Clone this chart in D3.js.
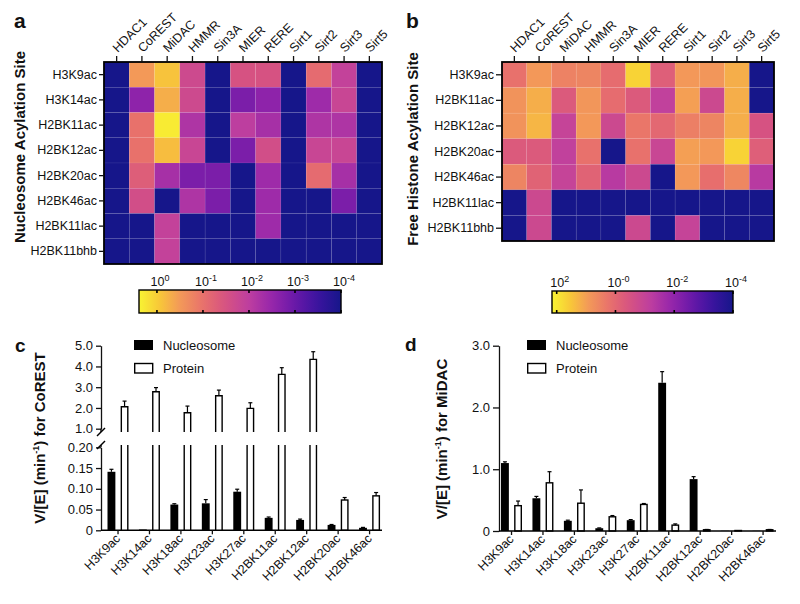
<!DOCTYPE html>
<html>
<head>
<meta charset="utf-8">
<script src="https://cdn.jsdelivr.net/npm/d3@7"></script>
<style>
  body { margin: 0; background: #fff; }
  text { font-family: "Liberation Sans", Arial, sans-serif; fill: #111; }
</style>
</head>
<body>
<script>
// ---- data ----
var enzymes = ["HDAC1", "CoREST", "MiDAC", "HMMR", "Sin3A", "MIER", "RERE", "Sirt1", "Sirt2", "Sirt3", "Sirt5"];
var nucleosomeSites = ["H3K9ac", "H3K14ac", "H2BK11ac", "H2BK12ac", "H2BK20ac", "H2BK46ac", "H2BK11lac", "H2BK11bhb"];
var freeSites = ["H3K9ac", "H2BK11ac", "H2BK12ac", "H2BK20ac", "H2BK46ac", "H2BK11lac", "H2BK11bhb"];

// log10 V/[E]
var nucleosomeLog = [
  [-4.5, -0.5, -0.1, -1.7, -4.5, -1.5, -1.5, -4.5, -1.1, -1.9, -4.5],
  [-4.5, -2.6, -0.3, -1.7, -4.5, -2.8, -2.6, -4.5, -2.4, -1.8, -4.5],
  [-4.5, -1.0, 0.3, -2.2, -4.5, -2.0, -2.3, -4.5, -2.2, -2.2, -4.5],
  [-4.5, -1.0, -0.15, -1.8, -4.5, -2.8, -1.6, -4.5, -1.8, -1.8, -4.5],
  [-4.5, -1.3, -2.3, -2.8, -2.8, -4.5, -2.4, -4.5, -1.1, -2.3, -4.5],
  [-4.5, -1.6, -4.5, -2.2, -2.8, -4.5, -2.4, -4.5, -4.5, -2.8, -4.5],
  [-4.5, -4.5, -1.9, -4.5, -4.5, -4.5, -2.4, -4.5, -4.5, -4.5, -4.5],
  [-4.5, -4.5, -1.9, -4.5, -4.5, -4.5, -4.5, -4.5, -4.5, -4.5, -4.5]
];
var freeLog = [
  [0.2, 0.9, 0.5, 0.55, 0.1, 1.7, -0.2, 0.9, 0.85, 1.2, -4.5],
  [0.8, 1.2, -0.3, 0.85, 0.1, -0.3, -1.1, 1.0, -0.8, 1.2, -4.5],
  [0.8, 1.3, -1.0, 0.9, -0.8, 0.3, 0.0, 0.45, 0.55, 1.2, -0.5],
  [-0.3, -0.3, -1.1, 0.2, -4.5, 0.2, -0.9, 1.0, 0.9, 1.7, -0.2],
  [0.55, -0.1, -1.0, -0.1, -1.3, -0.8, -4.5, 0.9, 0.15, 0.6, -1.3],
  [-4.5, -0.8, -4.5, -4.5, -4.5, -4.5, -4.5, -4.5, -4.5, -4.5, -4.5],
  [-4.5, -0.8, -4.5, -4.5, -4.5, -0.8, -4.5, -1.0, -4.5, -4.5, -4.5]
];
var nucleosomeTicks = [0, -1, -2, -3, -4];
var nucleosomeTickText = ["0", "-1", "-2", "-3", "-4"];
var freeTicks = [2, 0, -2, -4];
var freeTickText = ["2", "-0", "-2", "-4"];

var barSites = ["H3K9ac", "H3K14ac", "H3K18ac", "H3K23ac", "H3K27ac", "H2BK11ac", "H2BK12ac", "H2BK20ac", "H2BK46ac"];
var series = ["Nucleosome", "Protein"];
var corestNucleosome = [0.141, 0.002, 0.062, 0.065, 0.093, 0.030, 0.025, 0.013, 0.006];
var corestNucleosomeErr = [0.006, 0, 0.002, 0.009, 0.006, 0.002, 0.002, 0.001, 0.001];
var corestProtein = [2.06, 2.78, 1.77, 2.59, 1.98, 3.62, 4.34, 0.073, 0.083];
var corestProteinErr = [0.27, 0.2, 0.32, 0.27, 0.27, 0.32, 0.37, 0.006, 0.008];
var midacNucleosome = [1.10, 0.53, 0.165, 0.045, 0.175, 2.40, 0.84, 0.003, 0.003];
var midacNucleosomeErr = [0.02, 0.03, 0.01, 0.005, 0.01, 0.18, 0.04, 0, 0];
var midacProtein = [0.41, 0.78, 0.45, 0.23, 0.43, 0.095, 0.02, 0.008, 0.02];
var midacProteinErr = [0.075, 0.18, 0.215, 0.02, 0.015, 0.02, 0.005, 0, 0.005];

// ---- colour map (0 = yellow, 1 = navy) ----
var heat = d3.scaleLinear()
  .domain([0, 0.1, 0.2, 0.32, 0.43, 0.54, 0.66, 0.77, 0.88, 1])
  .range(["#f8f432", "#f8c838", "#f39a58", "#e8706c", "#d65282", "#bf3f9f", "#9626ab", "#6a18a8", "#3c14a0", "#16168a"])
  .interpolate(d3.interpolateRgb);

var svg = d3.select("body").append("svg")
  .attr("width", 800)
  .attr("height", 604);

function styleAxis(g, size) {
  g.attr("font-size", size)
    .attr("font-family", "Liberation Sans, Arial, sans-serif")
    .attr("color", "#111");
  g.selectAll("line, path").attr("stroke-width", 1.3);
}

function drawHeatmap(rows, values, box, domain, tickSize) {
  var x = d3.scaleBand().domain(enzymes).range([box.x0, box.x1]);
  var y = d3.scaleBand().domain(rows).range([box.y0, box.y1]);
  var t = d3.scaleLinear().domain(domain).range([0, 1]).clamp(true);

  var cells = [];
  values.forEach(function (row, i) {
    row.forEach(function (v, j) { cells.push({ site: rows[i], enzyme: enzymes[j], v: v }); });
  });

  svg.append("g").selectAll("rect")
    .data(cells)
    .enter().append("rect")
    .attr("x", function (d) { return x(d.enzyme); })
    .attr("y", function (d) { return y(d.site); })
    .attr("width", x.bandwidth())
    .attr("height", y.bandwidth())
    .attr("fill", function (d) { return heat(t(d.v)); })
    .attr("stroke", "rgba(255,255,255,0.10)")
    .attr("stroke-width", 0.6);

  svg.append("rect")
    .attr("x", box.x0).attr("y", box.y0)
    .attr("width", box.x1 - box.x0).attr("height", box.y1 - box.y0)
    .attr("fill", "none").attr("stroke", "#000").attr("stroke-width", 1.8);

  var top = svg.append("g")
    .attr("transform", "translate(0," + box.y0 + ")")
    .call(d3.axisTop(x).tickSize(6).tickSizeOuter(0));
  styleAxis(top, 12.5);
  top.select(".domain").remove();
  top.selectAll("text")
    .attr("x", 0).attr("y", 0).attr("dy", 0)
    .attr("transform", "translate(1,-9) rotate(-45)")
    .style("text-anchor", "start");

  var left = svg.append("g")
    .attr("transform", "translate(" + box.x0 + ",0)")
    .call(d3.axisLeft(y).tickSize(tickSize).tickPadding(2).tickSizeOuter(0));
  styleAxis(left, 12.5);
  left.select(".domain").remove();
}

function drawColorbar(id, box, domain, ticks, tickText) {
  var x = d3.scaleLinear().domain(domain).range([box.x0, box.x1]);
  var grad = svg.append("defs").append("linearGradient").attr("id", id);
  d3.range(0, 1.0001, 0.05).forEach(function (s) {
    grad.append("stop").attr("offset", s).attr("stop-color", heat(s));
  });
  svg.append("rect")
    .attr("x", box.x0).attr("y", box.y0)
    .attr("width", box.x1 - box.x0).attr("height", box.y1 - box.y0)
    .attr("fill", "url(#" + id + ")")
    .attr("stroke", "#000").attr("stroke-width", 1.4);

  var g = svg.append("g");
  ticks.forEach(function (v, i) {
    var px = x(v);
    g.append("line").attr("x1", px).attr("x2", px).attr("y1", box.y0).attr("y2", box.y0 + 3)
      .attr("stroke", "#000").attr("stroke-width", 1.6);
    g.append("line").attr("x1", px).attr("x2", px).attr("y1", box.y1 - 3).attr("y2", box.y1)
      .attr("stroke", "#000").attr("stroke-width", 1.6);
    var lab = g.append("text")
      .attr("x", px + 3).attr("y", box.y0 - 4)
      .attr("text-anchor", "middle")
      .attr("font-size", 12.5)
      .text("10");
    lab.append("tspan").attr("dy", -5).attr("font-size", 9).text(tickText[i]);
  });
}

function rotatedTitle(x, y, parts) {
  var txt = svg.append("text")
    .attr("transform", "translate(" + x + "," + y + ") rotate(-90)")
    .attr("text-anchor", "middle")
    .attr("font-size", 15)
    .attr("font-weight", "bold");
  parts.forEach(function (p) {
    var ts = txt.append("tspan").text(p.text);
    if (p.sup) ts.attr("font-size", 9).attr("dy", -6);
    if (p.after) ts.attr("dy", 6);
  });
}

function panelLetter(x, y, s, size) {
  svg.append("text").attr("x", x).attr("y", y)
    .attr("font-size", size).attr("font-weight", "bold").text(s);
}

// ---- panel a ----
drawHeatmap(nucleosomeSites, nucleosomeLog, { x0: 104, x1: 382, y0: 62, y1: 264 }, [0.39, -4], 5);
drawColorbar("gradA", { x0: 139, x1: 341, y0: 290, y1: 313 }, [0.39, -4], nucleosomeTicks, nucleosomeTickText);
rotatedTitle(25, 147, [{ text: "Nucleosome Acylation Site" }]);
panelLetter(14, 28, "a", 21);

// ---- panel b ----
drawHeatmap(freeSites, freeLog, { x0: 502, x1: 774, y0: 62, y1: 241 }, [2.16, -4], 6);
drawColorbar("gradB", { x0: 552, x1: 733, y0: 291, y1: 313 }, [2.16, -4], freeTicks, freeTickText);
rotatedTitle(418, 149, [{ text: "Free Histone Acylation Site" }]);
panelLetter(406, 28, "b", 21);

// ---- bar chart helpers ----
function legend(x, y) {
  svg.append("rect").attr("x", x).attr("y", y).attr("width", 19).attr("height", 10).attr("fill", "#000");
  svg.append("rect").attr("x", x + 0.7).attr("y", y + 23.5).attr("width", 18).attr("height", 9.5)
    .attr("fill", "#fff").attr("stroke", "#000").attr("stroke-width", 1.4);
  svg.append("text").attr("x", x + 29).attr("y", y + 10).attr("font-size", 13).text(series[0]);
  svg.append("text").attr("x", x + 29).attr("y", y + 33).attr("font-size", 13).text(series[1]);
}

function xAxis(xScale, y0, xStart, xEnd) {
  svg.append("line").attr("x1", xStart).attr("x2", xEnd).attr("y1", y0).attr("y2", y0)
    .attr("stroke", "#000").attr("stroke-width", 1.5);
  var g = svg.append("g")
    .attr("transform", "translate(0," + y0 + ")")
    .call(d3.axisBottom(xScale).tickSize(4).tickSizeOuter(0));
  styleAxis(g, 12.5);
  g.select(".domain").remove();
  g.selectAll("text")
    .attr("x", 0).attr("y", 0).attr("dy", 0)
    .attr("transform", "translate(3,9) rotate(-45)")
    .style("text-anchor", "end");
}

function errorBar(cx, y1, y2) {
  svg.append("line").attr("x1", cx).attr("x2", cx).attr("y1", y1).attr("y2", y2)
    .attr("stroke", "#000").attr("stroke-width", 1.2);
  svg.append("line").attr("x1", cx - 2).attr("x2", cx + 2).attr("y1", y2).attr("y2", y2)
    .attr("stroke", "#000").attr("stroke-width", 1.2);
}

var xs = d3.scaleBand().domain(series).range([5.2, 26.2]).paddingInner(0.4);

// ---- panel c (broken axis) ----
var xc = d3.scaleBand().domain(barSites).range([102.3, 385.3]);
var ycTop = d3.scaleLinear().domain([1, 5]).range([428.7, 345.7]);
var ycLow = d3.scaleLinear().domain([0, 0.2]).range([530.3, 447.3]);
var breakTop = 432, breakLow = 445;
function yc(v) { return v > 0.2 ? ycTop(v) : ycLow(v); }

var axTop = svg.append("g").attr("transform", "translate(101,0)")
  .call(d3.axisLeft(ycTop).tickValues([1, 2, 3, 4, 5]).tickFormat(d3.format(".1f")).tickSize(5).tickPadding(3).tickSizeOuter(0));
styleAxis(axTop, 13);
var axLow = svg.append("g").attr("transform", "translate(101,0)")
  .call(d3.axisLeft(ycLow).tickValues([0, 0.05, 0.1, 0.15, 0.2])
    .tickFormat(function (d) { return d === 0 ? "0" : d3.format(".2f")(d); })
    .tickSize(5).tickPadding(3).tickSizeOuter(0));
styleAxis(axLow, 13);
svg.append("line").attr("x1", 101).attr("x2", 101).attr("y1", 428.7).attr("y2", breakTop).attr("stroke", "#000").attr("stroke-width", 1.3);
svg.append("line").attr("x1", 101).attr("x2", 101).attr("y1", breakLow).attr("y2", 447.3).attr("stroke", "#000").attr("stroke-width", 1.3);
[breakTop, breakLow].forEach(function (by) {
  svg.append("line").attr("x1", 97).attr("x2", 105).attr("y1", by + 4).attr("y2", by - 4)
    .attr("stroke", "#000").attr("stroke-width", 1.5);
});

barSites.forEach(function (s, i) {
  var nx = xc(s) + xs("Nucleosome"), px = xc(s) + xs("Protein"), w = xs.bandwidth();
  var nv = corestNucleosome[i];
  svg.append("rect").attr("x", nx).attr("y", yc(nv)).attr("width", w).attr("height", 530.3 - yc(nv)).attr("fill", "#000");
  if (corestNucleosomeErr[i] > 0) errorBar(nx + w / 2, yc(nv), yc(nv + corestNucleosomeErr[i]));

  var pv = corestProtein[i];
  if (pv <= 0.2) {
    svg.append("rect").attr("x", px + 0.7).attr("y", yc(pv)).attr("width", w - 1.4).attr("height", 530.3 - yc(pv))
      .attr("fill", "#fff").attr("stroke", "#000").attr("stroke-width", 1.4);
  } else {
    svg.append("path")
      .attr("d", "M" + (px + 0.7) + "," + breakTop + "V" + yc(pv) + "H" + (px + w - 0.7) + "V" + breakTop +
        "M" + (px + 0.7) + "," + breakLow + "V530.3M" + (px + w - 0.7) + "," + breakLow + "V530.3")
      .attr("fill", "none").attr("stroke", "#000").attr("stroke-width", 1.4);
  }
  errorBar(px + w / 2, yc(pv), yc(pv + corestProteinErr[i]));
});
xAxis(xc, 530.3, 101, 382);
legend(134, 340);
rotatedTitle(45, 438, [{ text: "V/[E] (min" }, { text: "-1", sup: true }, { text: ") for CoREST", after: true }]);
panelLetter(15, 352, "c", 19);

// ---- panel d ----
var xd = d3.scaleBand().domain(barSites).range([495.8, 778.8]);
var yd = d3.scaleLinear().domain([0, 3]).range([531, 345.7]);
var axD = svg.append("g").attr("transform", "translate(499,0)")
  .call(d3.axisLeft(yd).tickValues([0, 1, 2, 3])
    .tickFormat(function (d) { return d === 0 ? "0" : d3.format(".1f")(d); })
    .tickSize(6).tickPadding(3).tickSizeOuter(0));
styleAxis(axD, 13);

barSites.forEach(function (s, i) {
  var nx = xd(s) + xs("Nucleosome"), px = xd(s) + xs("Protein"), w = xs.bandwidth();
  var nv = midacNucleosome[i];
  svg.append("rect").attr("x", nx).attr("y", yd(nv)).attr("width", w).attr("height", 531 - yd(nv)).attr("fill", "#000");
  if (midacNucleosomeErr[i] > 0) errorBar(nx + w / 2, yd(nv), yd(nv + midacNucleosomeErr[i]));
  var pv = midacProtein[i];
  svg.append("rect").attr("x", px + 0.7).attr("y", yd(pv)).attr("width", w - 1.4).attr("height", 531 - yd(pv))
    .attr("fill", "#fff").attr("stroke", "#000").attr("stroke-width", 1.4);
  if (midacProteinErr[i] > 0) errorBar(px + w / 2, yd(pv), yd(pv + midacProteinErr[i]));
});
xAxis(xd, 531, 499, 776);
legend(527, 340);
rotatedTitle(447, 439, [{ text: "V/[E] (min" }, { text: "-1", sup: true }, { text: ")  for MiDAC", after: true }]);
panelLetter(405, 351, "d", 19);
</script>
</body>
</html>
